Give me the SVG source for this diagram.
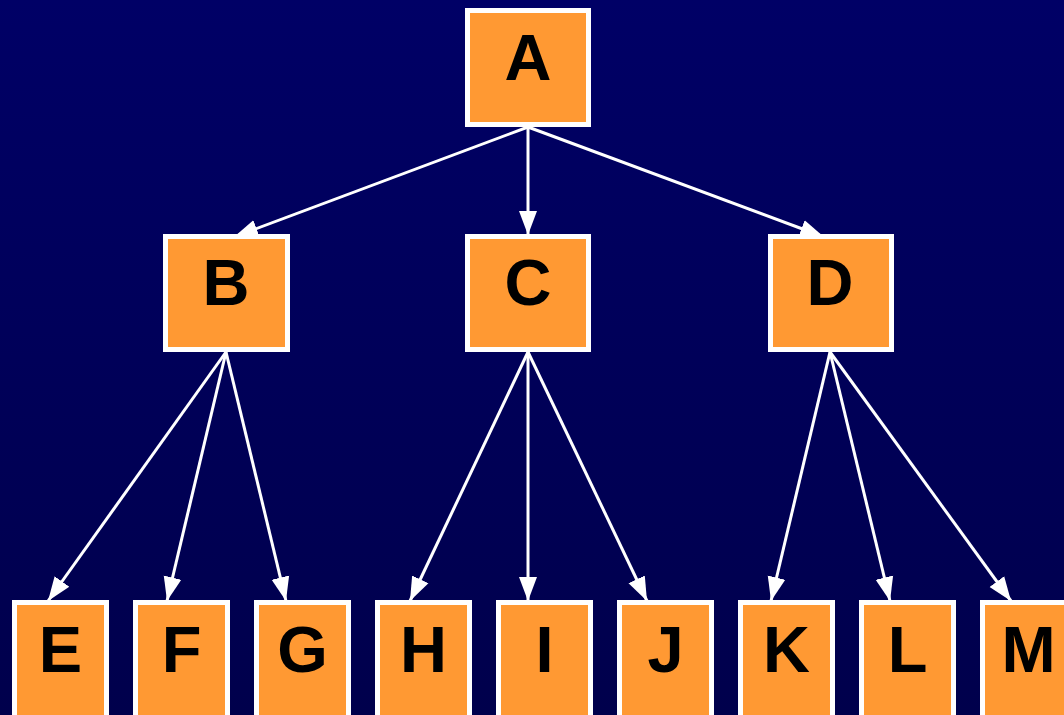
<svg xmlns="http://www.w3.org/2000/svg" width="1064" height="715" viewBox="0 0 1064 715">
  <defs>
    <linearGradient id="bg" x1="0" y1="0" x2="0" y2="1">
      <stop offset="0" stop-color="#000066"/>
      <stop offset="1" stop-color="#00004c"/>
    </linearGradient>
    <marker id="head" markerUnits="userSpaceOnUse" markerWidth="26" markerHeight="20" viewBox="0 0 26 20" refX="24" refY="10" orient="auto">
      <path d="M0,1 L24,10 L0,19 Z" fill="#ffffff"/>
    </marker>
    <style>
      .box { fill: #ff9933; stroke: #ffffff; stroke-width: 5; }
      .lbl { font-family: "Liberation Sans", Arial, sans-serif; font-weight: bold; font-size: 65px; fill: #000000; text-anchor: middle; }
      .edge { stroke: #ffffff; stroke-width: 3; fill: none; marker-end: url(#head); }
    </style>
  </defs>

  <rect x="0" y="0" width="1064" height="715" fill="url(#bg)"/>

  <!-- connectors -->
  <g id="edges">
    <line class="edge" x1="528" y1="127" x2="234" y2="237"/>
    <line class="edge" x1="528" y1="127" x2="528" y2="235"/>
    <line class="edge" x1="528" y1="127" x2="824" y2="237"/>

    <line class="edge" x1="226" y1="352" x2="48" y2="601"/>
    <line class="edge" x1="226" y1="352" x2="167" y2="601"/>
    <line class="edge" x1="226" y1="352" x2="286" y2="601"/>

    <line class="edge" x1="528" y1="352" x2="410" y2="601"/>
    <line class="edge" x1="528" y1="352" x2="528" y2="601"/>
    <line class="edge" x1="528" y1="352" x2="647" y2="601"/>

    <line class="edge" x1="830" y1="352" x2="771" y2="601"/>
    <line class="edge" x1="830" y1="352" x2="890" y2="601"/>
    <line class="edge" x1="830" y1="352" x2="1011" y2="601"/>
  </g>

  <!-- top level -->
  <g id="node-A">
    <rect class="box" x="467.5" y="10.5" width="121" height="114"/>
    <text class="lbl" x="528" y="80">A</text>
  </g>

  <!-- middle level -->
  <g id="node-B">
    <rect class="box" x="165.5" y="236.5" width="122" height="113"/>
    <text class="lbl" x="226" y="305">B</text>
  </g>
  <g id="node-C">
    <rect class="box" x="467.5" y="236.5" width="121" height="113"/>
    <text class="lbl" x="528" y="305">C</text>
  </g>
  <g id="node-D">
    <rect class="box" x="770.5" y="236.5" width="121" height="113"/>
    <text class="lbl" x="830" y="305">D</text>
  </g>

  <!-- bottom level -->
  <g id="node-E">
    <rect class="box" x="14.5" y="602.5" width="92" height="116"/>
    <text class="lbl" x="60.5" y="672">E</text>
  </g>
  <g id="node-F">
    <rect class="box" x="135.5" y="602.5" width="92" height="116"/>
    <text class="lbl" x="181.5" y="672">F</text>
  </g>
  <g id="node-G">
    <rect class="box" x="256.5" y="602.5" width="92" height="116"/>
    <text class="lbl" x="302.5" y="672">G</text>
  </g>
  <g id="node-H">
    <rect class="box" x="377.5" y="602.5" width="92" height="116"/>
    <text class="lbl" x="423.5" y="672">H</text>
  </g>
  <g id="node-I">
    <rect class="box" x="498.5" y="602.5" width="92" height="116"/>
    <text class="lbl" x="544.5" y="672">I</text>
  </g>
  <g id="node-J">
    <rect class="box" x="619.5" y="602.5" width="92" height="116"/>
    <text class="lbl" x="665.5" y="672">J</text>
  </g>
  <g id="node-K">
    <rect class="box" x="740.5" y="602.5" width="92" height="116"/>
    <text class="lbl" x="786.5" y="672">K</text>
  </g>
  <g id="node-L">
    <rect class="box" x="861.5" y="602.5" width="92" height="116"/>
    <text class="lbl" x="907.5" y="672">L</text>
  </g>
  <g id="node-M">
    <rect class="box" x="982.5" y="602.5" width="92" height="116"/>
    <text class="lbl" x="1028.5" y="672">M</text>
  </g>
</svg>
